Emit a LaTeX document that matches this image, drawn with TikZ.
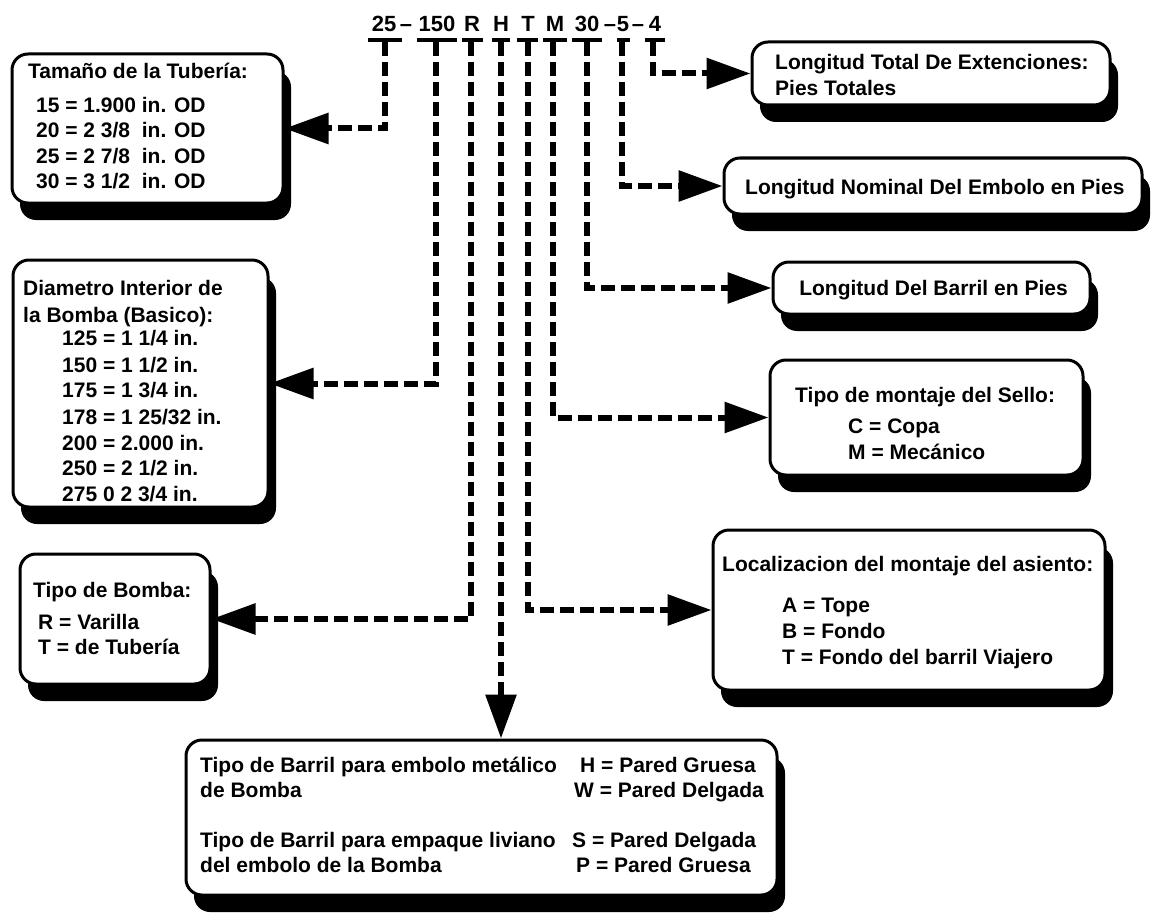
\documentclass[tikz,border=0pt]{standalone}
\usepackage{fontspec}
\setmainfont{Liberation Sans}
\usetikzlibrary{arrows.meta,shadows}
\begin{document}
\begin{tikzpicture}[x=1pt,y=-1pt,
  box/.style={draw=black, line width=3pt, fill=white, rounded corners=16pt, inner sep=0pt,
    drop shadow={shadow xshift=8pt, shadow yshift=-17pt, opacity=1, fill=black}},
  txt/.style={anchor=base west, inner sep=0pt, font=\fontsize{21}{26}\selectfont\bfseries},
  ctxt/.style={txt, anchor=base},
  code/.style={anchor=base, inner sep=0pt, font=\fontsize{22}{26}\selectfont\bfseries},
  uline/.style={line width=4pt},
  conn/.style={line width=6pt, dash pattern=on 14pt off 6pt,
    -{Triangle[length=44pt,width=30pt]}}]
\fill[white] (0,0) rectangle (1151,915);
\useasboundingbox (0,0) rectangle (1151,915);

% code at top
\node[code] (c25) at (384,32) {25};
\node[code] (cd1) at (406,32) {–};
\node[code] (c150) at (437,32) {150};
\node[code] (cR) at (472,32) {R};
\node[code] (cH) at (501,32) {H};
\node[code] (cT) at (528,32) {T};
\node[code] (cM) at (555,32) {M};
\node[code] (c30) at (587,32) {30};
\node[code] (cd2) at (610,32) {–};
\node[code] (c5) at (623,32) {5};
\node[code] (cd3) at (638,32) {–};
\node[code] (c4) at (655,32) {4};

\draw[uline] (368,40) -- (402,40);
\draw[uline] (417,40) -- (457,40);
\draw[uline] (462,40) -- (483,40);
\draw[uline] (492,40) -- (510,40);
\draw[uline] (517,40) -- (538,40);
\draw[uline] (543,40) -- (567,40);
\draw[uline] (572,40) -- (602,40);
\draw[uline] (617,40) -- (630,40);
\draw[uline] (645,40) -- (665,40);

% boxes
\node[box, minimum width=271pt, minimum height=149pt] (A) at (147.5,128.5) {};
\node[box, minimum width=255pt, minimum height=247pt] (B) at (140.5,383.5) {};
\node[box, minimum width=190pt, minimum height=130pt] (C) at (115,619) {};
\node[box, minimum width=591pt, minimum height=155pt] (D) at (481.5,817.5) {};
\node[box, minimum width=392pt, minimum height=160pt] (E) at (909,610) {};
\node[box, minimum width=313pt, minimum height=115pt] (F) at (926.5,417.5) {};
\node[box, minimum width=317pt, minimum height=52pt] (G) at (931.5,288) {};
\node[box, minimum width=418pt, minimum height=56pt] (H) at (933,186) {};
\node[box, minimum width=358pt, minimum height=63pt] (I) at (931,73.5) {};

% texts
\node[txt] (a0) at (28,78.5) {Tamaño de la Tubería:};
\node[txt] (a1) at (36,112.5) {15 = 1.900 in. OD};
\node[txt] (a2) at (36,137.5) {20 = 2 3/8\ \ in. OD};
\node[txt] (a3) at (36,163.5) {25 = 2 7/8\ \ in. OD};
\node[txt] (a4) at (36,188.5) {30 = 3 1/2\ \ in. OD};

\node[txt] (b0) at (23,295.5) {Diametro Interior de};
\node[txt] (b1) at (23,322.5) {la Bomba (Basico):};
\node[txt] (b2) at (62,345.5) {125 = 1 1/4 in.};
\node[txt] (b3) at (62,372.5) {150 = 1 1/2 in.};
\node[txt] (b4) at (62,397.5) {175 = 1 3/4 in.};
\node[txt] (b5) at (62,424.5) {178 = 1 25/32 in.};
\node[txt] (b6) at (62,450.5) {200 = 2.000 in.};
\node[txt] (b7) at (62,475.5) {250 = 2 1/2 in.};
\node[txt] (b8) at (62,501.5) {275 0 2 3/4 in.};

\node[txt] (c0) at (33,597.5) {Tipo de Bomba:};
\node[txt] (c1) at (38,629.5) {R = Varilla};
\node[txt] (c2) at (38,654.5) {T = de Tubería};

\node[txt] (d0) at (200,772.5) {Tipo de Barril para embolo metálico};
\node[txt] (d1) at (200,797.5) {de Bomba};
\node[txt] (d2) at (200,847.5) {Tipo de Barril para empaque liviano};
\node[txt] (d3) at (200,872.5) {del embolo de la Bomba};
\node[txt] (d4) at (580,772.5) {H = Pared Gruesa};
\node[txt] (d5) at (574,797.5) {W = Pared Delgada};
\node[txt] (d6) at (572,847.5) {S = Pared Delgada};
\node[txt] (d7) at (576,872.5) {P = Pared Gruesa};

\node[txt] (e0) at (722,571.5) {Localizacion del montaje del asiento:};
\node[txt] (e1) at (782,612.5) {A = Tope};
\node[txt] (e2) at (782,638.5) {B = Fondo};
\node[txt] (e3) at (782,664.5) {T = Fondo del barril Viajero};

\node[txt] (f0) at (795,402.5) {Tipo de montaje del Sello:};
\node[txt] (f1) at (848,433.5) {C = Copa};
\node[txt] (f2) at (848,459.5) {M = Mecánico};

\node[ctxt] (g0) at (933.5,295.5) {Longitud Del Barril en Pies};
\node[txt] (h0) at (745,194.5) {Longitud Nominal Del Embolo en Pies};
\node[txt] (i0) at (775,69.5) {Longitud Total De Extenciones:};
\node[txt] (i1) at (775,95.5) {Pies Totales};

% connector start points
\coordinate (s25) at (385,42);
\coordinate (s150) at (436,42);
\coordinate (sR) at (471,42);
\coordinate (sH) at (501,42);
\coordinate (sT) at (528,42);
\coordinate (sM) at (553,42);
\coordinate (s30) at (587,42);
\coordinate (s5) at (622,42);
\coordinate (s4) at (653,42);

\draw[conn] (s25) |- (A.east);
\draw[conn] (s150) |- (B.east);
\draw[conn] (sR) |- (C.east);
\draw[conn] (sH) -- (sH |- D.north);
\draw[conn] (sT) |- (E.west);
\draw[conn] (sM) |- (F.west);
\draw[conn] (s30) |- (G.west);
\draw[conn] (s5) |- (H.west);
\draw[conn] (s4) |- (I.west);
\end{tikzpicture}
\end{document}
